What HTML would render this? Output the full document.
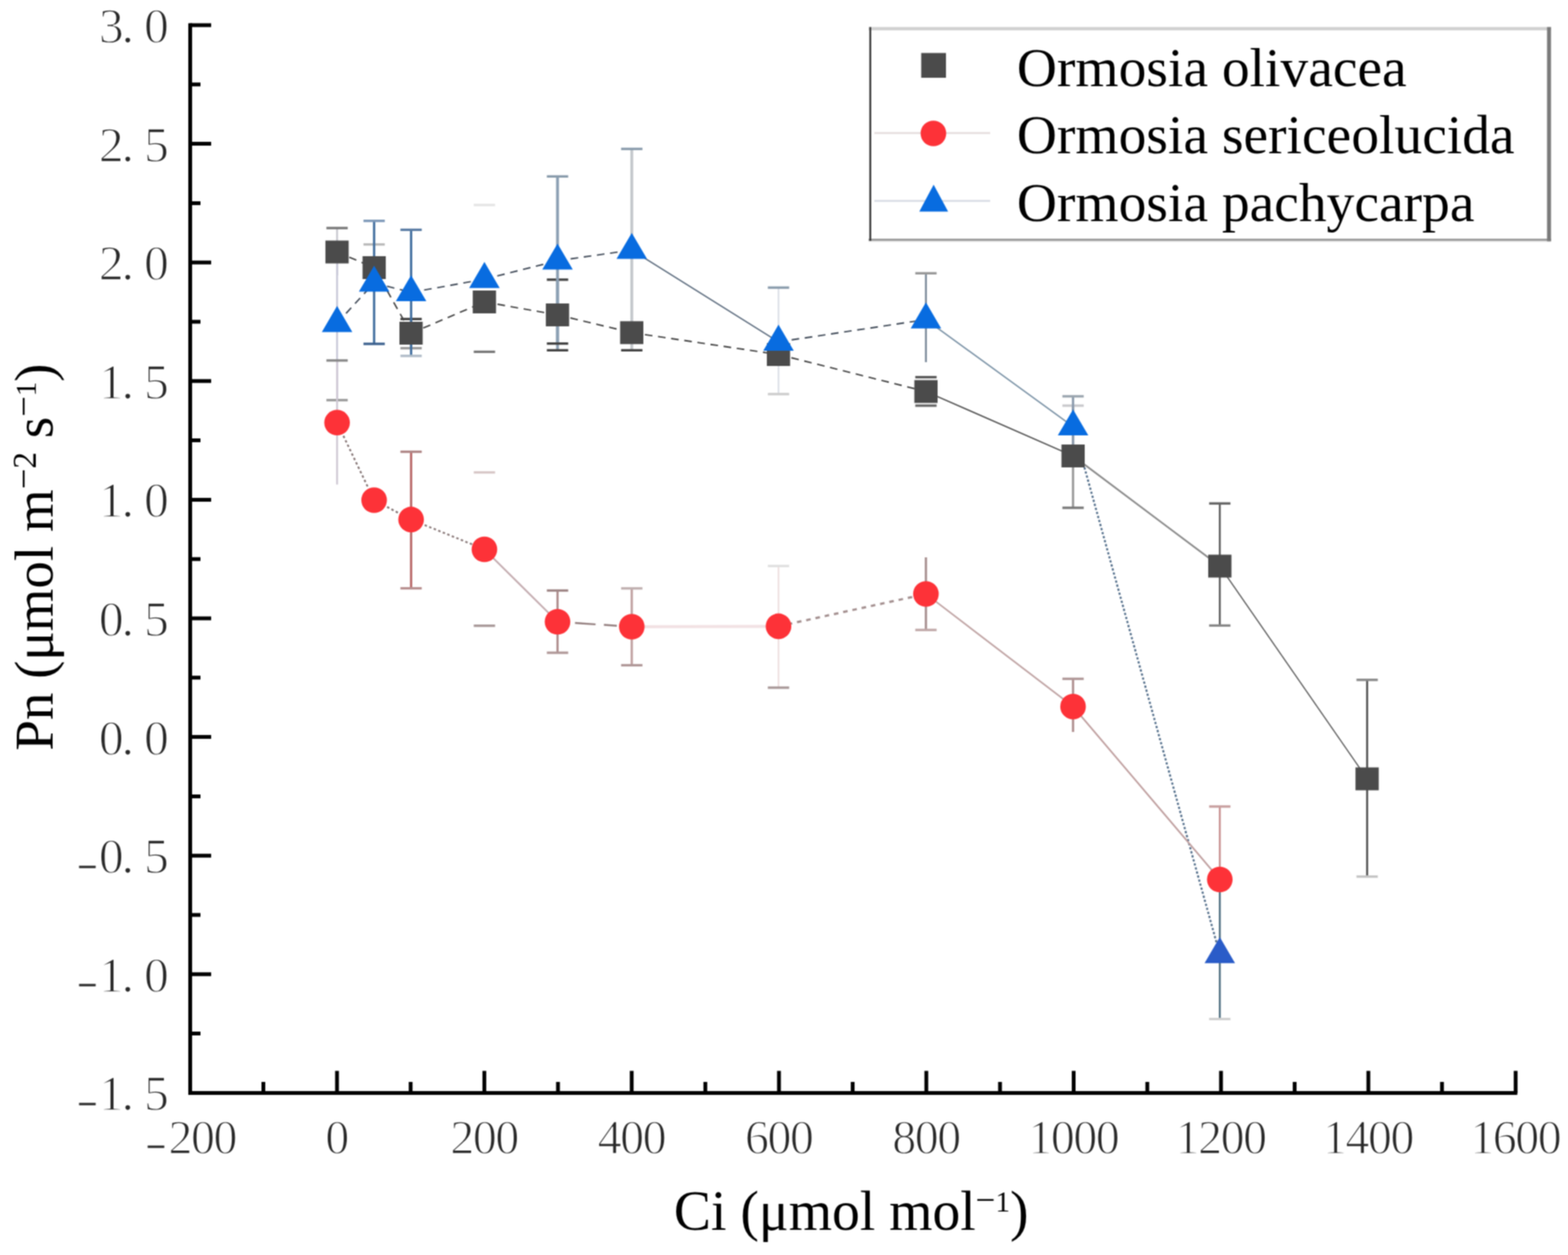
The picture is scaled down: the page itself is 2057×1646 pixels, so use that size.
<!DOCTYPE html>
<html><head><meta charset="utf-8"><title>Pn vs Ci</title>
<style>html,body{margin:0;padding:0;background:#fff;overflow:hidden;width:2057px;height:1646px;}svg{display:block;}</style>
</head><body>
<svg width="2057" height="1646" viewBox="0 0 2057 1646">
<defs><filter id="soft" x="0" y="0" width="1" height="1" color-interpolation-filters="sRGB"><feConvolveMatrix order="3" kernelMatrix="1 2 1 2 4 2 1 2 1" divisor="16" edgeMode="duplicate"/></filter></defs>
<g filter="url(#soft)">
<rect width="2057" height="1646" fill="#fff"/>
<path d="M249.5 30.5 V1436 M247 1433.5 H1990.5" stroke="#000" stroke-width="5" fill="none"/>
<path d="M249.5 33.0 H277 M249.5 188.6 H277 M249.5 344.2 H277 M249.5 499.8 H277 M249.5 655.4 H277 M249.5 811.0 H277 M249.5 966.6 H277 M249.5 1122.2 H277 M249.5 1277.8 H277 M249.5 1433.4 H277 M249.5 110.8 H263 M249.5 266.4 H263 M249.5 422.0 H263 M249.5 577.6 H263 M249.5 733.2 H263 M249.5 888.8 H263 M249.5 1044.4 H263 M249.5 1200.0 H263 M249.5 1355.6 H263 M442.1 1433.5 V1404.5 M635.4 1433.5 V1404.5 M828.7 1433.5 V1404.5 M1021.9 1433.5 V1404.5 M1215.2 1433.5 V1404.5 M1408.5 1433.5 V1404.5 M1601.8 1433.5 V1404.5 M1795.1 1433.5 V1404.5 M1988.3 1433.5 V1404.5 M345.5 1433.5 V1419 M538.7 1433.5 V1419 M732.0 1433.5 V1419 M925.3 1433.5 V1419 M1118.6 1433.5 V1419 M1311.9 1433.5 V1419 M1505.1 1433.5 V1419 M1698.4 1433.5 V1419 M1891.7 1433.5 V1419" stroke="#000" stroke-width="5" fill="none"/>
<g font-family="Liberation Serif, serif" font-size="65" fill="#2a2a2a" stroke="#fff" stroke-width="1.4"><text x="129.8 159.5 189" y="56.0">3.0</text><text x="129.8 159.5 189" y="211.6">2.5</text><text x="129.8 159.5 189" y="367.2">2.0</text><text x="129.8 159.5 189" y="522.8">1.5</text><text x="129.8 159.5 189" y="678.4">1.0</text><text x="129.8 159.5 189" y="834.0">0.5</text><text x="129.8 159.5 189" y="989.6">0.0</text><text y="1145.2"><tspan x="102" dy="6.5" font-size="45" stroke="#2a2a2a" stroke-width="0.9">−</tspan><tspan x="129.8 159.5 189" dy="-6.5">0.5</tspan></text><text y="1300.8"><tspan x="102" dy="6.5" font-size="45" stroke="#2a2a2a" stroke-width="0.9">−</tspan><tspan x="129.8 159.5 189" dy="-6.5">1.0</tspan></text><text y="1456.4"><tspan x="102" dy="6.5" font-size="45" stroke="#2a2a2a" stroke-width="0.9">−</tspan><tspan x="129.8 159.5 189" dy="-6.5">1.5</tspan></text></g>
<g font-family="Liberation Serif, serif" font-size="63" fill="#2a2a2a" stroke="#fff" stroke-width="1.4"><text y="1512.5"><tspan x="192" dy="6.5" font-size="45" stroke="#2a2a2a" stroke-width="0.9">−</tspan><tspan x="221" dy="-6.5" letter-spacing="-2">200</tspan></text><text x="441.6" y="1512.5" text-anchor="middle" letter-spacing="-2">0</text><text x="634.9" y="1512.5" text-anchor="middle" letter-spacing="-2">200</text><text x="828.2" y="1512.5" text-anchor="middle" letter-spacing="-2">400</text><text x="1021.4" y="1512.5" text-anchor="middle" letter-spacing="-2">600</text><text x="1214.7" y="1512.5" text-anchor="middle" letter-spacing="-2">800</text><text x="1408.0" y="1512.5" text-anchor="middle" letter-spacing="-2">1000</text><text x="1601.3" y="1512.5" text-anchor="middle" letter-spacing="-2">1200</text><text x="1794.6" y="1512.5" text-anchor="middle" letter-spacing="-2">1400</text><text x="1987.8" y="1512.5" text-anchor="middle" letter-spacing="-2">1600</text></g>
<text x="884" y="1612.6" font-family="Liberation Serif, serif" font-size="73" fill="#000">Ci (μmol mol<tspan font-size="46" dy="-24">−</tspan><tspan font-size="38">1</tspan><tspan dy="24">)</tspan></text>
<text transform="translate(69 984.5) rotate(-90)" x="0" y="0" font-family="Liberation Serif, serif" font-size="72" fill="#000">Pn (μmol m<tspan font-size="48" dy="-22">−</tspan><tspan font-size="44">2</tspan><tspan dy="22"> s</tspan><tspan font-size="48" dy="-22">−</tspan><tspan font-size="38">1</tspan><tspan dy="22">)</tspan></text>
<path d="M1139.5 37.6 H2034.8" stroke="#d0d0d0" stroke-width="4.4" fill="none"/>
<path d="M1139.5 315.2 H2034.8" stroke="#ececec" stroke-width="5" fill="none"/>
<path d="M1139.5 314.5 H2034.8" stroke="#a0a0a0" stroke-width="2.8" fill="none"/>
<path d="M2032.1 35.5 V316.5" stroke="#7a7a7a" stroke-width="5.2" fill="none"/>
<path d="M1141.7 35.5 V316" stroke="#3a3a3a" stroke-width="2.5" fill="none"/>
<line x1="1147" y1="174.5" x2="1299" y2="174.5" stroke="#e6dede" stroke-width="2.5"/>
<line x1="1147" y1="263.5" x2="1299" y2="263.5" stroke="#d8dce4" stroke-width="2.5"/>
<rect x="1208.5" y="69.5" width="32.5" height="32.5" fill="#4b4b4b"/>
<circle cx="1224.5" cy="175" r="16.8" fill="#fd3238"/>
<path d="M1224.8 242.2 L1243.8 277.4 L1206 277.4 Z" fill="#086ce0"/>
<g font-family="Liberation Serif, serif" font-size="72.8" fill="#000"><text x="1334" y="112.5">Ormosia olivacea</text><text x="1334" y="200.5">Ormosia sericeolucida</text><text x="1334" y="289.5">Ormosia pachycarpa</text></g>
<g fill="none"><line x1="442.2" y1="330.5" x2="490.8" y2="351.0" stroke="#404040" stroke-width="1.9" stroke-dasharray="10 7.4"/><line x1="490.8" y1="351.0" x2="539.3" y2="437.0" stroke="#404040" stroke-width="1.9" stroke-dasharray="10 7.4"/><line x1="539.3" y1="437.0" x2="635.5" y2="396.0" stroke="#404040" stroke-width="1.9" stroke-dasharray="10 7.4"/><line x1="635.5" y1="396.0" x2="731.4" y2="413.0" stroke="#404040" stroke-width="1.9" stroke-dasharray="10 7.4"/><line x1="731.4" y1="413.0" x2="828.8" y2="436.3" stroke="#404040" stroke-width="1.9" stroke-dasharray="10 7.4"/><line x1="828.8" y1="436.3" x2="1021.3" y2="465.0" stroke="#404040" stroke-width="1.9" stroke-dasharray="10 7.4"/><line x1="1021.3" y1="465.0" x2="1214.7" y2="513.5" stroke="#404040" stroke-width="1.9" stroke-dasharray="10 7.4"/><line x1="1214.7" y1="513.5" x2="1407.7" y2="598.0" stroke="#505050" stroke-width="1.7"/><line x1="1407.7" y1="598.0" x2="1600.2" y2="742.5" stroke="#8a8a8a" stroke-width="2.2"/><line x1="1600.2" y1="742.5" x2="1793.5" y2="1021.5" stroke="#5a5a5a" stroke-width="1.6"/><line x1="442.2" y1="423.8" x2="490.8" y2="371.0" stroke="#3e4856" stroke-width="1.9" stroke-dasharray="10 7.4"/><line x1="490.8" y1="371.0" x2="539.3" y2="383.5" stroke="#3e4856" stroke-width="1.9" stroke-dasharray="10 7.4"/><line x1="539.3" y1="383.5" x2="635.5" y2="366.2" stroke="#3e4856" stroke-width="1.9" stroke-dasharray="10 7.4"/><line x1="635.5" y1="366.2" x2="731.4" y2="342.0" stroke="#3e4856" stroke-width="1.9" stroke-dasharray="10 7.4"/><line x1="731.4" y1="342.0" x2="828.8" y2="328.0" stroke="#3e4856" stroke-width="1.9" stroke-dasharray="10 7.4"/><line x1="828.8" y1="328.0" x2="1021.3" y2="448.4" stroke="#5a6a7c" stroke-width="1.7"/><line x1="1021.3" y1="448.4" x2="1214.7" y2="419.2" stroke="#3e4856" stroke-width="1.9" stroke-dasharray="10 7.4"/><line x1="1214.7" y1="419.2" x2="1407.7" y2="559.5" stroke="#7890a4" stroke-width="1.8"/><line x1="1422.6" y1="613" x2="1600.2" y2="1251.6" stroke="#55708c" stroke-width="2.6" stroke-dasharray="3 2.5"/><line x1="442.2" y1="554.3" x2="490.8" y2="656.0" stroke="#857575" stroke-width="2.4" stroke-dasharray="3.2 3.2"/><line x1="490.8" y1="656.0" x2="539.3" y2="681.4" stroke="#857575" stroke-width="2.4" stroke-dasharray="3.2 3.2"/><line x1="539.3" y1="681.4" x2="635.5" y2="720.5" stroke="#8a7a7a" stroke-width="2.4" stroke-dasharray="3.2 3.2"/><line x1="635.5" y1="720.5" x2="731.4" y2="815.5" stroke="#c4acb0" stroke-width="2.4"/><line x1="731.4" y1="815.5" x2="828.8" y2="822.0" stroke="#947f7f" stroke-width="2.4" stroke-dasharray="0 23 27 11 17 300"/><line x1="828.8" y1="822.0" x2="1021.3" y2="821.4" stroke="#f2e2e4" stroke-width="4"/><line x1="1021.3" y1="821.4" x2="1214.7" y2="779.0" stroke="#a49090" stroke-width="3" stroke-dasharray="6 6.4"/><line x1="1214.7" y1="779.0" x2="1407.7" y2="926.7" stroke="#c0a4a4" stroke-width="2.2"/><line x1="1407.7" y1="926.7" x2="1600.2" y2="1153.5" stroke="#c0a0a0" stroke-width="2.2"/></g>
<g><line x1="442.2" y1="299.1" x2="442.2" y2="361" stroke="#c8c8d0" stroke-width="2.5"/><line x1="428.2" y1="299.1" x2="456.2" y2="299.1" stroke="#777" stroke-width="3.2"/><line x1="476.8" y1="320.6" x2="504.8" y2="320.6" stroke="#bbb" stroke-width="3.2"/><line x1="539.3" y1="418.4" x2="539.3" y2="456.7" stroke="#8aa0b8" stroke-width="3"/><line x1="525.3" y1="418.4" x2="553.3" y2="418.4" stroke="#444" stroke-width="3.2"/><line x1="525.3" y1="456.7" x2="553.3" y2="456.7" stroke="#999" stroke-width="3.2"/><line x1="731.4" y1="366.8" x2="731.4" y2="459.4" stroke="#8ca0b4" stroke-width="3.8"/><line x1="717.4" y1="366.8" x2="745.4" y2="366.8" stroke="#444" stroke-width="3.2"/><line x1="717.4" y1="459.4" x2="745.4" y2="459.4" stroke="#444" stroke-width="3.2"/><line x1="1200.7" y1="494.7" x2="1228.7" y2="494.7" stroke="#555" stroke-width="3.2"/><line x1="1200.7" y1="532" x2="1228.7" y2="532" stroke="#666" stroke-width="3.2"/><line x1="1407.7" y1="532" x2="1407.7" y2="666" stroke="#999" stroke-width="3"/><line x1="1393.7" y1="532" x2="1421.7" y2="532" stroke="#c8c8cc" stroke-width="3.2"/><line x1="1393.7" y1="666" x2="1421.7" y2="666" stroke="#777" stroke-width="3.2"/><line x1="1600.2" y1="660.3" x2="1600.2" y2="820.4" stroke="#5c5c5c" stroke-width="2.5"/><line x1="1586.2" y1="660.3" x2="1614.2" y2="660.3" stroke="#666" stroke-width="3.2"/><line x1="1586.2" y1="820.4" x2="1614.2" y2="820.4" stroke="#888" stroke-width="3.2"/><line x1="1793.5" y1="891.7" x2="1793.5" y2="1149.7" stroke="#505050" stroke-width="2.6"/><line x1="1779.5" y1="891.7" x2="1807.5" y2="891.7" stroke="#8a8a8a" stroke-width="3.2"/><line x1="1779.5" y1="1149.7" x2="1807.5" y2="1149.7" stroke="#c4c4c4" stroke-width="3.2"/><line x1="442.2" y1="322" x2="442.2" y2="524.8" stroke="#c8c8d8" stroke-width="2.5"/><line x1="428.2" y1="524.8" x2="456.2" y2="524.8" stroke="#999" stroke-width="3.2"/><line x1="490.8" y1="289.7" x2="490.8" y2="451" stroke="#3f6d9e" stroke-width="3"/><line x1="476.8" y1="289.7" x2="504.8" y2="289.7" stroke="#7d98b8" stroke-width="3.2"/><line x1="476.8" y1="451" x2="504.8" y2="451" stroke="#3a5f8c" stroke-width="3.2"/><line x1="539.3" y1="301.4" x2="539.3" y2="466.8" stroke="#3f6d9e" stroke-width="3"/><line x1="525.3" y1="301.4" x2="553.3" y2="301.4" stroke="#5a7ca4" stroke-width="3.2"/><line x1="525.3" y1="466.8" x2="553.3" y2="466.8" stroke="#b0bcc8" stroke-width="3.2"/><line x1="621.5" y1="268.9" x2="649.5" y2="268.9" stroke="#e4e4e4" stroke-width="3.2"/><line x1="621.5" y1="461.4" x2="649.5" y2="461.4" stroke="#777" stroke-width="3.2"/><line x1="731.4" y1="231.4" x2="731.4" y2="450.6" stroke="#8ca0b4" stroke-width="3.8"/><line x1="717.4" y1="231.4" x2="745.4" y2="231.4" stroke="#8a9cac" stroke-width="3.2"/><line x1="717.4" y1="450.6" x2="745.4" y2="450.6" stroke="#444" stroke-width="3.2"/><line x1="828.8" y1="195.3" x2="828.8" y2="459.4" stroke="#c4c8cc" stroke-width="3.8"/><line x1="814.8" y1="195.3" x2="842.8" y2="195.3" stroke="#8a9cac" stroke-width="3.2"/><line x1="814.8" y1="459.4" x2="842.8" y2="459.4" stroke="#444" stroke-width="3.2"/><line x1="1021.3" y1="377.2" x2="1021.3" y2="516.9" stroke="#d8dce4" stroke-width="2"/><line x1="1007.3" y1="377.2" x2="1035.3" y2="377.2" stroke="#8a9cac" stroke-width="3.2"/><line x1="1007.3" y1="516.9" x2="1035.3" y2="516.9" stroke="#ccc" stroke-width="3.2"/><line x1="1214.7" y1="358.4" x2="1214.7" y2="475" stroke="#7a8898" stroke-width="2.5"/><line x1="1200.7" y1="358.4" x2="1228.7" y2="358.4" stroke="#999" stroke-width="3.2"/><line x1="1407.7" y1="519.8" x2="1407.7" y2="600" stroke="#8a9aac" stroke-width="3"/><line x1="1393.7" y1="519.8" x2="1421.7" y2="519.8" stroke="#9aa4ae" stroke-width="3.2"/><line x1="1600.2" y1="1166" x2="1600.2" y2="1336.5" stroke="#4f6f80" stroke-width="2.5"/><line x1="1586.2" y1="1336.5" x2="1614.2" y2="1336.5" stroke="#d0d0d0" stroke-width="3.2"/><line x1="442.2" y1="472.8" x2="442.2" y2="635.5" stroke="#cfc8d4" stroke-width="2.5"/><line x1="428.2" y1="472.8" x2="456.2" y2="472.8" stroke="#888" stroke-width="3.2"/><line x1="539.3" y1="592.5" x2="539.3" y2="771.6" stroke="#b86868" stroke-width="3"/><line x1="525.3" y1="592.5" x2="553.3" y2="592.5" stroke="#b08888" stroke-width="3.2"/><line x1="525.3" y1="771.6" x2="553.3" y2="771.6" stroke="#b89090" stroke-width="3.2"/><line x1="621.5" y1="619.6" x2="649.5" y2="619.6" stroke="#d8c8c8" stroke-width="3.2"/><line x1="621.5" y1="820.7" x2="649.5" y2="820.7" stroke="#a89898" stroke-width="3.2"/><line x1="731.4" y1="774.5" x2="731.4" y2="856.1" stroke="#b09090" stroke-width="3"/><line x1="717.4" y1="774.5" x2="745.4" y2="774.5" stroke="#a08888" stroke-width="3.2"/><line x1="717.4" y1="856.1" x2="745.4" y2="856.1" stroke="#b09898" stroke-width="3.2"/><line x1="828.8" y1="771.7" x2="828.8" y2="872.5" stroke="#c0a0a0" stroke-width="3"/><line x1="814.8" y1="771.7" x2="842.8" y2="771.7" stroke="#c0b0b0" stroke-width="3.2"/><line x1="814.8" y1="872.5" x2="842.8" y2="872.5" stroke="#b09898" stroke-width="3.2"/><line x1="1021.3" y1="742.3" x2="1021.3" y2="901.9" stroke="#ecdcdc" stroke-width="2"/><line x1="1007.3" y1="742.3" x2="1035.3" y2="742.3" stroke="#e0e0e0" stroke-width="3.2"/><line x1="1007.3" y1="901.9" x2="1035.3" y2="901.9" stroke="#a89898" stroke-width="3.2"/><line x1="1214.7" y1="731" x2="1214.7" y2="826.2" stroke="#a89090" stroke-width="3"/><line x1="1200.7" y1="826.2" x2="1228.7" y2="826.2" stroke="#c0a8a8" stroke-width="3.2"/><line x1="1407.7" y1="890.3" x2="1407.7" y2="960" stroke="#b09090" stroke-width="3"/><line x1="1393.7" y1="890.3" x2="1421.7" y2="890.3" stroke="#b09898" stroke-width="3.2"/><line x1="1600.2" y1="1057.8" x2="1600.2" y2="1166" stroke="#c89090" stroke-width="2.5"/><line x1="1586.2" y1="1057.8" x2="1614.2" y2="1057.8" stroke="#c8a0a0" stroke-width="3.2"/></g>
<g><rect x="426.9" y="315.5" width="30.5" height="30" fill="#4b4b4b"/><rect x="475.6" y="336.0" width="30.5" height="30" fill="#4b4b4b"/><rect x="524.0" y="422.0" width="30.5" height="30" fill="#4b4b4b"/><rect x="620.2" y="381.0" width="30.5" height="30" fill="#4b4b4b"/><rect x="716.1" y="398.0" width="30.5" height="30" fill="#4b4b4b"/><rect x="813.5" y="421.3" width="30.5" height="30" fill="#4b4b4b"/><rect x="1006.0" y="450.0" width="30.5" height="30" fill="#4b4b4b"/><rect x="1199.5" y="498.5" width="30.5" height="30" fill="#4b4b4b"/><rect x="1392.5" y="583.0" width="30.5" height="30" fill="#4b4b4b"/><rect x="1585.0" y="727.5" width="30.5" height="30" fill="#4b4b4b"/><rect x="1778.2" y="1006.5" width="30.5" height="30" fill="#4b4b4b"/><circle cx="442.2" cy="554.3" r="16.8" fill="#fd3238"/><circle cx="490.8" cy="656.0" r="16.8" fill="#fd3238"/><circle cx="539.3" cy="681.4" r="16.8" fill="#fd3238"/><circle cx="635.5" cy="720.5" r="16.8" fill="#fd3238"/><circle cx="731.4" cy="815.5" r="16.8" fill="#fd3238"/><circle cx="828.8" cy="822.0" r="16.8" fill="#fd3238"/><circle cx="1021.3" cy="821.4" r="16.8" fill="#fd3238"/><circle cx="1214.7" cy="779.0" r="16.8" fill="#fd3238"/><circle cx="1407.7" cy="926.7" r="16.8" fill="#fd3238"/><circle cx="1600.2" cy="1153.5" r="16.8" fill="#fd3238"/><path d="M442.2 401.2 L462.2 435.4 L422.2 435.4 Z" fill="#086ce0"/><path d="M490.8 348.4 L510.8 382.6 L470.8 382.6 Z" fill="#086ce0"/><path d="M539.3 360.9 L559.3 395.1 L519.3 395.1 Z" fill="#086ce0"/><path d="M635.5 343.6 L655.5 377.8 L615.5 377.8 Z" fill="#086ce0"/><path d="M731.4 319.4 L751.4 353.6 L711.4 353.6 Z" fill="#086ce0"/><path d="M828.8 305.4 L848.8 339.6 L808.8 339.6 Z" fill="#086ce0"/><path d="M1021.3 425.8 L1041.3 460.0 L1001.3 460.0 Z" fill="#086ce0"/><path d="M1214.7 396.6 L1234.7 430.8 L1194.7 430.8 Z" fill="#086ce0"/><path d="M1407.7 536.9 L1427.7 571.1 L1387.7 571.1 Z" fill="#086ce0"/><path d="M1600.2 1229.0 L1620.2 1263.2 L1580.2 1263.2 Z" fill="#2a5cc8"/></g>
</g></svg>
</body></html>
